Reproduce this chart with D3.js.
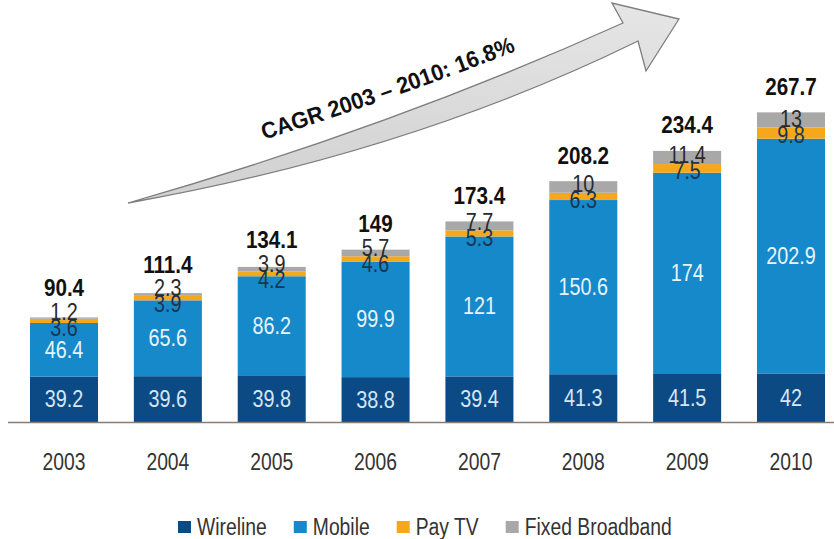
<!DOCTYPE html>
<html>
<head>
<meta charset="utf-8">
<script src="https://cdn.jsdelivr.net/npm/d3@7"></script>
<style>
  body { margin: 0; background: #fff; }
  svg { display: block; }
  text { font-family: "Liberation Sans Narrow", "Arial Narrow", "Liberation Sans", Arial, sans-serif; }
</style>
</head>
<body>
<div id="chart"></div>
<script>
const years = ['2003', '2004', '2005', '2006', '2007', '2008', '2009', '2010'];
const wireline = [39.2, 39.6, 39.8, 38.8, 39.4, 41.3, 41.5, 42];
const mobile = [46.4, 65.6, 86.2, 99.9, 121, 150.6, 174, 202.9];
const payTv = [3.6, 3.9, 4.2, 4.6, 5.3, 6.3, 7.5, 9.8];
const fixedBroadband = [1.2, 2.3, 3.9, 5.7, 7.7, 10, 11.4, 13];
const totals = [90.4, 111.4, 134.1, 149, 173.4, 208.2, 234.4, 267.7];

const seriesNames = ['Wireline', 'Mobile', 'Pay TV', 'Fixed Broadband'];
const seriesColors = ['#0c4a86', '#1589c9', '#f6a81c', '#a8a8a8'];
const cagrLabel = 'CAGR 2003 \u2013 2010: 16.8%';

const W = 834, H = 539;
const baseY = 422;

let rows = years.map(function(yr, i) {
    return {year: yr, 'Wireline': wireline[i], 'Mobile': mobile[i], 'Pay TV': payTv[i],
        'Fixed Broadband': fixedBroadband[i], total: totals[i]};
});

let svg = d3.select('#chart').append('svg')
    .attr('width', W)
    .attr('height', H);

let x = d3.scaleBand()
    .domain(years)
    .range([30, 825])
    .paddingInner(0.345)
    .paddingOuter(0);

let y = d3.scaleLinear()
    .domain([0, 300])
    .range([baseY, 75]);

let color = d3.scaleOrdinal().domain(seriesNames).range(seriesColors);

let stacked = d3.stack().keys(seriesNames)(rows);

// no narrow font installed, so squeeze the glyphs to get the Arial Narrow look
function condense(sel, factor) {
    sel.each(function() {
        let len = this.getComputedTextLength();
        d3.select(this)
            .attr('textLength', len * factor)
            .attr('lengthAdjust', 'spacingAndGlyphs');
    });
}

function drawArrow() {
    // curved growth arrow behind the bars
    let p = d3.path();
    p.moveTo(128, 203);
    p.quadraticCurveTo(390, 128, 623, 23);
    p.lineTo(612, 3);
    p.lineTo(679, 19);
    p.lineTo(646, 71);
    p.lineTo(638, 41);
    p.quadraticCurveTo(410, 153, 128, 203);
    p.closePath();

    let defs = svg.append('defs');
    let grad = defs.append('linearGradient')
        .attr('id', 'arrow-grad')
        .attr('x1', 0).attr('y1', 0).attr('x2', 0).attr('y2', 1);
    grad.append('stop').attr('offset', '0%').attr('stop-color', '#e6e6e6');
    grad.append('stop').attr('offset', '100%').attr('stop-color', '#d0d0d0');

    svg.append('path')
        .attr('d', p.toString())
        .attr('fill', 'url(#arrow-grad)')
        .attr('stroke', '#7d7d7d')
        .attr('stroke-width', 1.3)
        .attr('stroke-linejoin', 'miter');

    defs.append('path')
        .attr('id', 'cagr-path')
        .attr('d', 'M120,182 Q385,110 640,0');

    svg.append('text')
        .attr('font-size', 23)
        .attr('font-weight', 'bold')
        .attr('fill', '#111')
        .append('textPath')
        .attr('href', '#cagr-path')
        .attr('startOffset', 150)
        .text(cagrLabel)
        .call(condense, 0.95);
}

drawArrow();

let layers = svg.append('g').classed('bars', true)
    .selectAll('g')
    .data(stacked)
    .enter()
    .append('g')
    .attr('fill', function(d) { return color(d.key); });

layers.selectAll('rect')
    .data(function(d) { return d; })
    .enter()
    .append('rect')
    .attr('x', function(d) { return x(d.data.year); })
    .attr('width', x.bandwidth())
    .attr('y', function(d) { return y(d[1]); })
    .attr('height', function(d) { return y(d[0]) - y(d[1]); });

// baseline
svg.append('line')
    .attr('x1', 8).attr('x2', W)
    .attr('y1', baseY + 0.5).attr('y2', baseY + 0.5)
    .attr('stroke', '#877d72')
    .attr('stroke-width', 1.6);

let xAxis = svg.append('g')
    .attr('transform', 'translate(0,' + baseY + ')')
    .call(d3.axisBottom(x).tickSize(0).tickPadding(32));
xAxis.select('.domain').remove();
xAxis.selectAll('text')
    .attr('font-size', 23)
    .attr('font-family', null)
    .attr('fill', '#333')
    .call(condense, 0.84);

// labels inside wireline and mobile segments
let labels = svg.append('g').classed('labels', true);
let mid = function(s) { return (y(s[0]) + y(s[1])) / 2; };

[0, 1].forEach(function(k) {
    labels.selectAll('.inner-' + k)
        .data(stacked[k])
        .enter()
        .append('text')
        .attr('x', function(d) { return x(d.data.year) + x.bandwidth() / 2; })
        .attr('y', mid)
        .attr('dy', '0.35em')
        .attr('text-anchor', 'middle')
        .attr('font-size', 23)
        .attr('fill', k === 0 ? '#d6e6f5' : '#e8f3fb')
        .text(function(d) { return d.data[seriesNames[k]]; })
        .call(condense, 0.86);
});

// pay tv / broadband labels, pushed apart when they collide
let minGap = 16;
let small = rows.map(function(r, i) {
    let payY = mid(stacked[2][i]);
    let bbY = mid(stacked[3][i]);
    let gap = payY - bbY;
    if (gap < minGap) {
        let push = (minGap - gap) / 2;
        payY += push;
        bbY -= push;
    }
    let top = y(r.total);
    return {year: r.year, payY: payY, bbY: bbY, totalY: Math.min(top - 26, bbY - 24), row: r};
});

let cx = function(d) { return x(d.year) + x.bandwidth() / 2; };

labels.selectAll('.pay')
    .data(small)
    .enter()
    .append('text')
    .attr('x', cx)
    .attr('y', function(d) { return d.payY; })
    .attr('dy', '0.35em')
    .attr('text-anchor', 'middle')
    .attr('font-size', 23)
    .attr('fill', '#1c3552')
    .text(function(d) { return d.row['Pay TV']; })
    .call(condense, 0.86);

labels.selectAll('.bb')
    .data(small)
    .enter()
    .append('text')
    .attr('x', cx)
    .attr('y', function(d) { return d.bbY; })
    .attr('dy', '0.35em')
    .attr('text-anchor', 'middle')
    .attr('font-size', 23)
    .attr('fill', '#2a2a2a')
    .text(function(d) { return d.row['Fixed Broadband']; })
    .call(condense, 0.86);

labels.selectAll('.total')
    .data(small)
    .enter()
    .append('text')
    .attr('x', cx)
    .attr('y', function(d) { return d.totalY; })
    .attr('dy', '0.35em')
    .attr('text-anchor', 'middle')
    .attr('font-size', 24)
    .attr('font-weight', 'bold')
    .attr('fill', '#111')
    .text(function(d) { return d.row.total; })
    .call(condense, 0.86);

// legend
let legend = svg.append('g').attr('transform', 'translate(178, 527)');
let lx = 0;
seriesNames.forEach(function(name) {
    legend.append('rect')
        .attr('x', lx)
        .attr('y', -6)
        .attr('width', 13)
        .attr('height', 12)
        .attr('fill', color(name));
    let t = legend.append('text')
        .attr('x', lx + 19)
        .attr('dy', '0.35em')
        .attr('font-size', 23)
        .attr('fill', '#333')
        .text(name)
        .call(condense, 0.84);
    lx += 19 + (+t.attr('textLength')) + 27;
});
</script>
</body>
</html>
